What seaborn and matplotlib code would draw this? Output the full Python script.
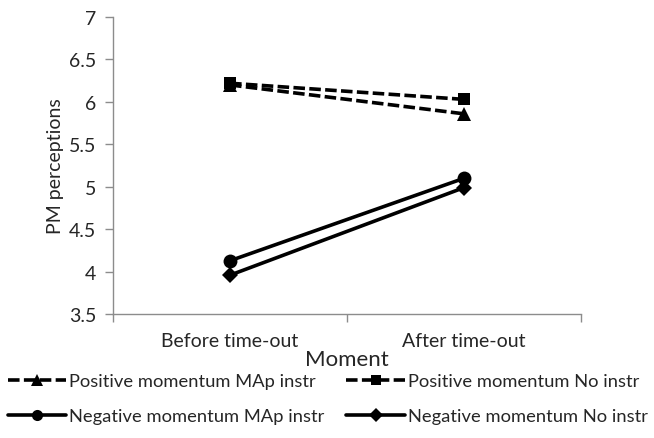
import pandas as pd
import numpy as np
import matplotlib.pyplot as plt
import seaborn as sns

moments = ["Before time-out", "After time-out"]
series = ["Positive momentum MAp instr", "Positive momentum No instr",
          "Negative momentum MAp instr", "Negative momentum No instr"]
pos_map = [6.20, 5.86]
pos_no = [6.22, 6.03]
neg_map = [4.13, 5.10]
neg_no = [3.96, 4.99]

df = pd.DataFrame({
    "Moment": moments * 4,
    "value": pos_map + pos_no + neg_map + neg_no,
    "series": np.repeat(series, 2),
})

sns.set_style("white")
plt.rcParams['font.family'] = ['Lato', 'DejaVu Sans']

fig = plt.figure(figsize=(6.54, 4.39), dpi=100)
ax = fig.add_axes([0.173, 0.282, 0.715, 0.677])

sns.lineplot(data=df, x="Moment", y="value", hue="series", style="series",
             palette=["black"] * 4,
             markers={series[0]: "^", series[1]: "s", series[2]: "o", series[3]: "D"},
             dashes={series[0]: (3.2, 1.2), series[1]: (3.2, 1.2), series[2]: "", series[3]: ""},
             linewidth=2.6, markersize=10, markeredgewidth=0, ax=ax)

# square and diamond look smaller in the original
for line in ax.lines:
    if line.get_marker() in ("s", "D"):
        line.set_markersize(8.5)

ax.set_ylim(3.5, 7)
ax.set_yticks(np.arange(3.5, 7.01, 0.5))
ax.set_yticklabels(["3.5", "4", "4.5", "5", "5.5", "6", "6.5", "7"])
ax.set_xlim(-0.5, 1.5)
ax.set_xticks([-0.5, 0.5, 1.5])
ax.set_xticklabels([])
ax.set_xticks([0, 1], minor=True)
ax.set_xticklabels(moments, minor=True)
ax.tick_params(axis="x", which="minor", length=0, pad=13, labelsize=14)
ax.tick_params(axis="x", which="major", length=6, width=1, color="#8c8c8c", direction="out")
ax.tick_params(axis="y", length=6, width=1, color="#8c8c8c", direction="out", labelsize=14, pad=6)
ax.tick_params(bottom=True, left=True, which="both")

for s in ["top", "right"]:
    ax.spines[s].set_visible(False)
for s in ["left", "bottom"]:
    ax.spines[s].set_color("#8c8c8c")
    ax.spines[s].set_linewidth(1)

ax.set_xlabel("Moment", fontsize=16, labelpad=0)
ax.set_ylabel("PM perceptions", fontsize=14, labelpad=4)

handles, labels = ax.get_legend_handles_labels()
ax.get_legend().remove()
h = dict(zip(labels, handles))
order = [series[0], series[2], series[1], series[3]]
fig.legend([h[k] for k in order], order, ncol=2, loc="lower left",
           bbox_to_anchor=(0.006, 0.023), frameon=False, fontsize=13.2,
           handlelength=3.2, handletextpad=0.15, columnspacing=1.2,
           labelspacing=1.05, borderaxespad=0, borderpad=0.2, markerscale=0.8)

fig.savefig("out.png", dpi=100)
